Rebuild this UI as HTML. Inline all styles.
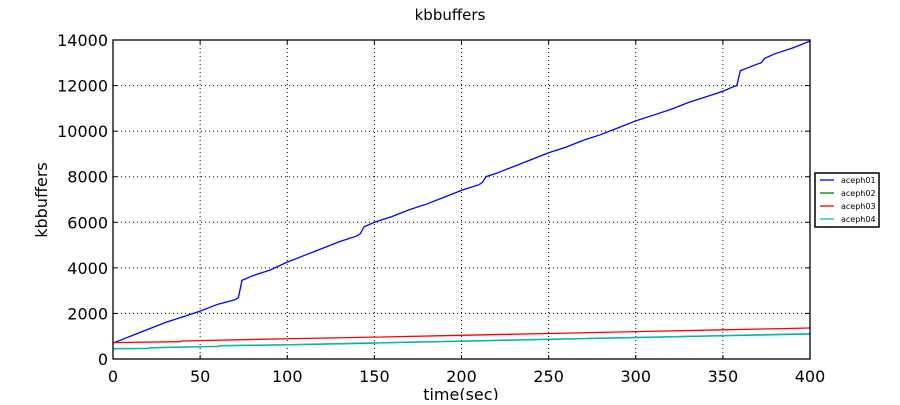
<!DOCTYPE html>
<html><head><meta charset="utf-8"><style>
body{margin:0;background:#fff;}
svg text{font-family:"DejaVu Sans","Liberation Sans",sans-serif;fill:#000;}
</style></head><body>
<svg id="c" width="900" height="400" xmlns="http://www.w3.org/2000/svg">
<rect width="900" height="400" fill="#fff"/>
<text x="450" y="20" font-size="15" text-anchor="middle">kbbuffers</text>
<g id="grid"></g><g id="series"></g><g id="axes"></g>
<text x="461" y="400" font-size="16" text-anchor="middle">time(sec)</text>
<text transform="translate(47,200) rotate(-90)" font-size="16" text-anchor="middle">kbbuffers</text>
<g id="legend"></g>
</svg>
<script>
const xTicks=[0,50,100,150,200,250,300,350,400];
const yTicks=[0,2000,4000,6000,8000,10000,12000,14000];
const seriesNames=["aceph01","aceph02","aceph03","aceph04"];
const seriesColors=["#0000ff","#008000","#ff0000","#00bfbf"];
const t1=[0,10,20,30,40,50,60,70,72,74,80,90,100,110,120,130,140,142,144,150,160,170,180,190,200,210,212,214,220,230,240,250,260,270,280,290,300,310,320,330,340,350,356,358,360,370,372,374,380,390,400];
const v1=[700,1000,1300,1600,1850,2100,2400,2600,2700,3450,3650,3900,4250,4550,4850,5150,5400,5500,5800,6000,6250,6550,6800,7100,7400,7650,7750,8000,8150,8450,8750,9050,9300,9600,9850,10150,10450,10700,10950,11250,11500,11750,11950,12000,12650,12950,13000,13200,13400,13650,13950];
const t2=[0,20,22,40,60,62,100,150,200,250,300,350,400];
const v2=[450,460,490,520,550,580,620,700,780,860,940,1020,1100];
const t3=[0,38,40,100,150,200,250,300,350,400];
const v3=[720,760,790,890,960,1040,1120,1200,1280,1360];
const t4=[0,20,22,40,60,62,100,150,200,250,300,350,400];
const v4=[460,470,500,530,560,590,630,710,790,870,950,1030,1110];
const X0=113,X1=810,Y0=359,Y1=40;
const sx=v=>X0+(v-0)/400*(X1-X0);
const sy=v=>Y0-(v-0)/14000*(Y0-Y1);
const NS="http://www.w3.org/2000/svg";
function mk(tag,parent){const e=document.createElementNS(NS,tag);document.getElementById(parent).appendChild(e);return e;}
function seg(parent,x1,y1,x2,y2){const g=mk('line',parent);g.setAttribute('x1',x1);g.setAttribute('x2',x2);g.setAttribute('y1',y1);g.setAttribute('y2',y2);g.setAttribute('stroke','#000');return g;}
xTicks.forEach(t=>{
 const x=sx(t);
 if(t>0&&t<400){const g=seg('grid',x,Y1,x,Y0);g.setAttribute('stroke-dasharray','1,3');
 
 }
 const k1=seg('axes',x,Y0,x,Y0-4);
 
 
 const k2=seg('axes',x,Y1,x,Y1+4);
 
 
 const l=mk('text','axes');l.setAttribute('x',x);l.setAttribute('y',Y0+23);l.setAttribute('font-size','16');l.setAttribute('text-anchor','middle');l.textContent=t;
 
 
});
yTicks.forEach(t=>{
 const y=sy(t);
 if(t>0&&t<14000){const g=seg('grid',X0,y,X1,y);g.setAttribute('stroke-dasharray','1,3');
 
 }
 const k1=seg('axes',X0,y,X0+4,y);
 
 
 const k2=seg('axes',X1,y,X1-4,y);
 
 
 const l=mk('text','axes');l.setAttribute('x',X0-5);l.setAttribute('y',y+6);l.setAttribute('font-size','16');l.setAttribute('text-anchor','end');l.textContent=t;
 
 
});
const fr=mk('rect','axes');fr.setAttribute('x',X0);fr.setAttribute('y',Y1);fr.setAttribute('width',X1-X0);fr.setAttribute('height',Y0-Y1);fr.setAttribute('fill','none');fr.setAttribute('stroke','#000');fr.setAttribute('stroke-width','1.3');


const data=[[t1,v1],[t2,v2],[t3,v3],[t4,v4]];
data.forEach((d,i)=>{
 const p=mk('polyline','series');
 p.setAttribute('points',d[0].map((t,j)=>sx(t)+','+sy(d[1][j])).join(' '));
 p.setAttribute('fill','none');p.setAttribute('stroke',seriesColors[i]);p.setAttribute('stroke-width','1.3');
 
 
});
const lb=mk('rect','legend');lb.setAttribute('x',815);lb.setAttribute('y',173);lb.setAttribute('width',64);lb.setAttribute('height',54);lb.setAttribute('fill','#fff');lb.setAttribute('stroke','#000');lb.setAttribute('stroke-width','1.5');


seriesNames.forEach((n,i)=>{
 const y=180+i*13;
 const l=mk('line','legend');l.setAttribute('x1',820);l.setAttribute('x2',834);l.setAttribute('y1',y);l.setAttribute('y2',y);l.setAttribute('stroke',seriesColors[i]);l.setAttribute('stroke-width','1.3');
 
 
 const tx=mk('text','legend');tx.setAttribute('x',841);tx.setAttribute('y',y+3);tx.setAttribute('font-size','8');tx.textContent=n;
 
 
});
</script>
</body></html>
